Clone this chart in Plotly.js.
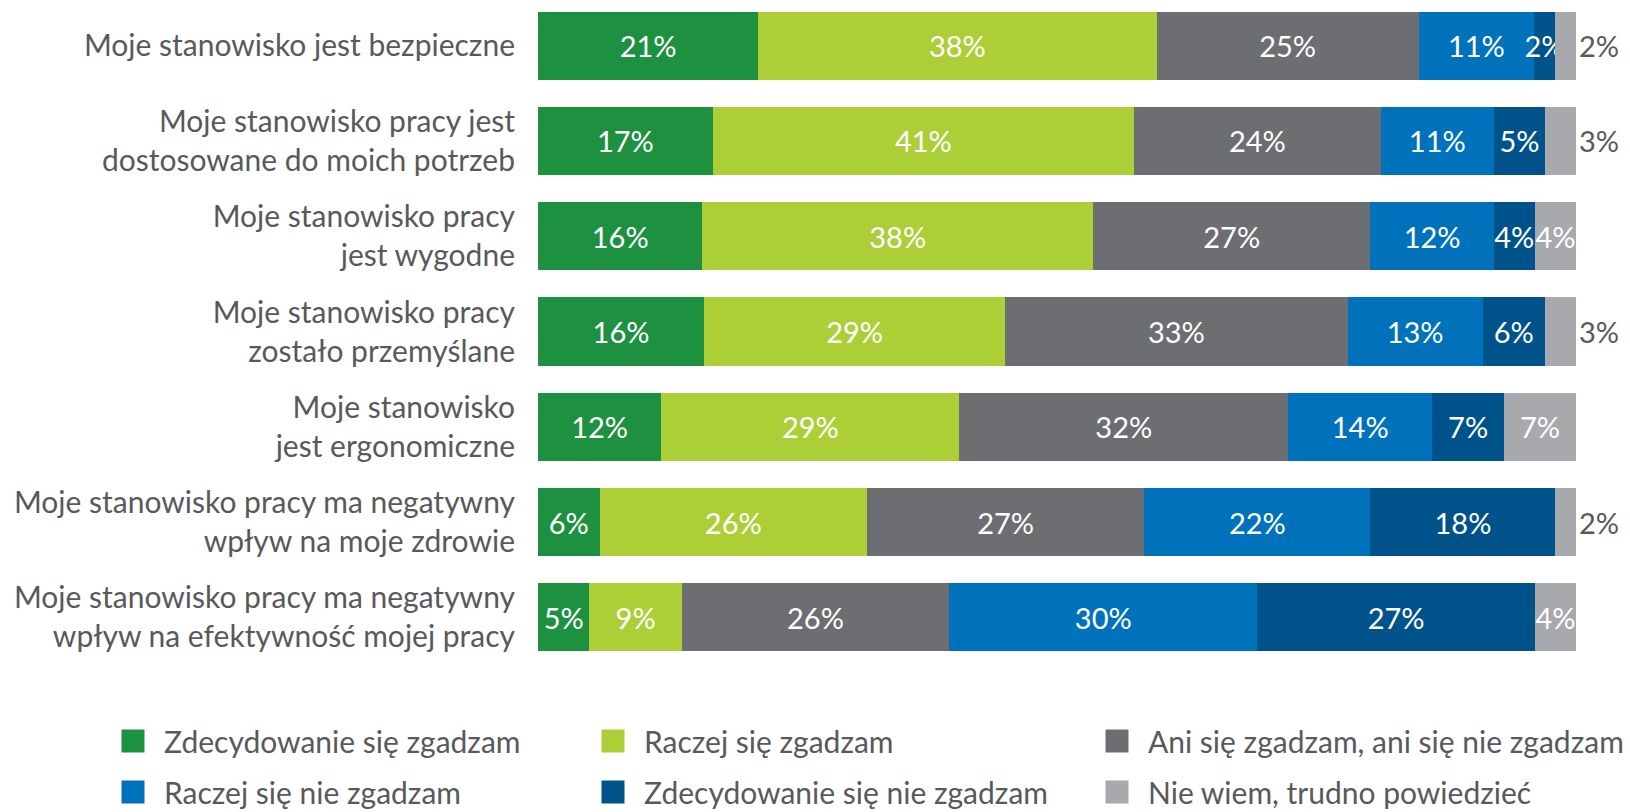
<!DOCTYPE html>
<html>
<head>
<meta charset="utf-8">
<script src="https://cdn.plot.ly/plotly-3.0.1.min.js"></script>
<style>
  html, body { margin: 0; padding: 0; background: #ffffff; }
  #chart { width: 1630px; height: 812px; }
</style>
</head>
<body>
<div id="chart"></div>
<script>
// ---- data ----
const categories = [
  "Moje stanowisko jest bezpieczne",
  "Moje stanowisko pracy jest<br>dostosowane do moich potrzeb",
  "Moje stanowisko pracy<br>jest wygodne",
  "Moje stanowisko pracy<br>zostało przemyślane",
  "Moje stanowisko<br>jest ergonomiczne",
  "Moje stanowisko pracy ma negatywny<br>wpływ na moje zdrowie",
  "Moje stanowisko pracy ma negatywny<br>wpływ na efektywność mojej pracy"
];
const seriesNames = [
  "Zdecydowanie się zgadzam",
  "Raczej się zgadzam",
  "Ani się zgadzam, ani się nie zgadzam",
  "Raczej się nie zgadzam",
  "Zdecydowanie się nie zgadzam",
  "Nie wiem, trudno powiedzieć"
];
const zdecydowanieZgadzam    = [21, 17, 16, 16, 12, 6, 5];
const raczejZgadzam          = [38, 41, 38, 29, 29, 26, 9];
const aniAni                 = [25, 24, 27, 33, 32, 27, 26];
const raczejNieZgadzam       = [11, 11, 12, 13, 14, 22, 30];
const zdecydowanieNieZgadzam = [2, 5, 4, 6, 7, 18, 27];
const nieWiem                = [2, 3, 4, 3, 7, 2, 4];

const seriesValues = [zdecydowanieZgadzam, raczejZgadzam, aniAni, raczejNieZgadzam, zdecydowanieNieZgadzam, nieWiem];
const colors = ["#1d9140", "#accf37", "#6d6e71", "#0072bc", "#00538a", "#a7a9ac"];

// ---- layout helpers ----
const W = 1630, H = 812;
const M = { l: 538, r: 54, t: 0, b: 149, autoexpand: false };
const plotW = W - M.l - M.r, plotH = H - M.t - M.b;
const textGray = "#58595b";
const FONT = "Lato, 'Noto Sans', sans-serif";

const traces = seriesValues.map((vals, i) => {
  const last = i === seriesValues.length - 1;
  return {
    type: "bar",
    orientation: "h",
    name: seriesNames[i],
    y: categories,
    x: vals,
    text: vals.map(v => v + "%"),
    texttemplate: "%{text}",
    textposition: last ? vals.map(v => v >= 4 ? "inside" : "outside") : "inside",
    insidetextanchor: "middle",
    textangle: 0,
    constraintext: "none",
    cliponaxis: false,
    insidetextfont: { color: "#ffffff", size: 29, family: FONT },
    outsidetextfont: { color: textGray, size: 29, family: FONT },
    marker: { color: colors[i], line: { width: 0 } },
    legend: i === 0 ? "legend" : "legend" + (i + 1),
    hoverinfo: "skip"
  };
});

// legend positions (symbol centre pixels) -> paper coords
const legendCenters = [
  [133, 741], [613, 741], [1117, 741],
  [133, 792], [613, 792], [1117, 792]
];
const layout = {
  width: W, height: H,
  margin: M,
  paper_bgcolor: "#ffffff",
  plot_bgcolor: "#ffffff",
  barmode: "stack",
  barnorm: "percent",
  bargap: 0.286,
  font: { family: FONT, size: 30, color: textGray },
  xaxis: {
    range: [0, 100], visible: false, fixedrange: true
  },
  yaxis: {
    type: "category",
    range: [6.48, -0.48],
    showgrid: false, zeroline: false, showline: false,
    ticks: "",
    ticklabelstandoff: 22,
    tickfont: { family: FONT, size: 30, color: textGray },
    fixedrange: true
  },
  showlegend: true
};
legendCenters.forEach((c, i) => {
  const key = i === 0 ? "legend" : "legend" + (i + 1);
  layout[key] = {
    x: (c[0] - 31 - M.l) / plotW,
    y: (plotH - (c[1] - M.t)) / plotH,
    xanchor: "left", yanchor: "middle",
    orientation: "h",
    itemwidth: 52,
    bgcolor: "rgba(0,0,0,0)",
    borderwidth: 0,
    font: { family: FONT, size: 30, color: textGray },
    itemclick: false, itemdoubleclick: false
  };
});

Plotly.newPlot("chart", traces, layout, { displayModeBar: false, staticPlot: true }).then(gd => {
  // enlarge the legend squares to match the reference
  gd.querySelectorAll(".legendpoints path").forEach(p => {
    p.setAttribute("d", "M11.5,11.5H-11.5V-11.5H11.5Z");
  });
});
</script>
</body>
</html>
